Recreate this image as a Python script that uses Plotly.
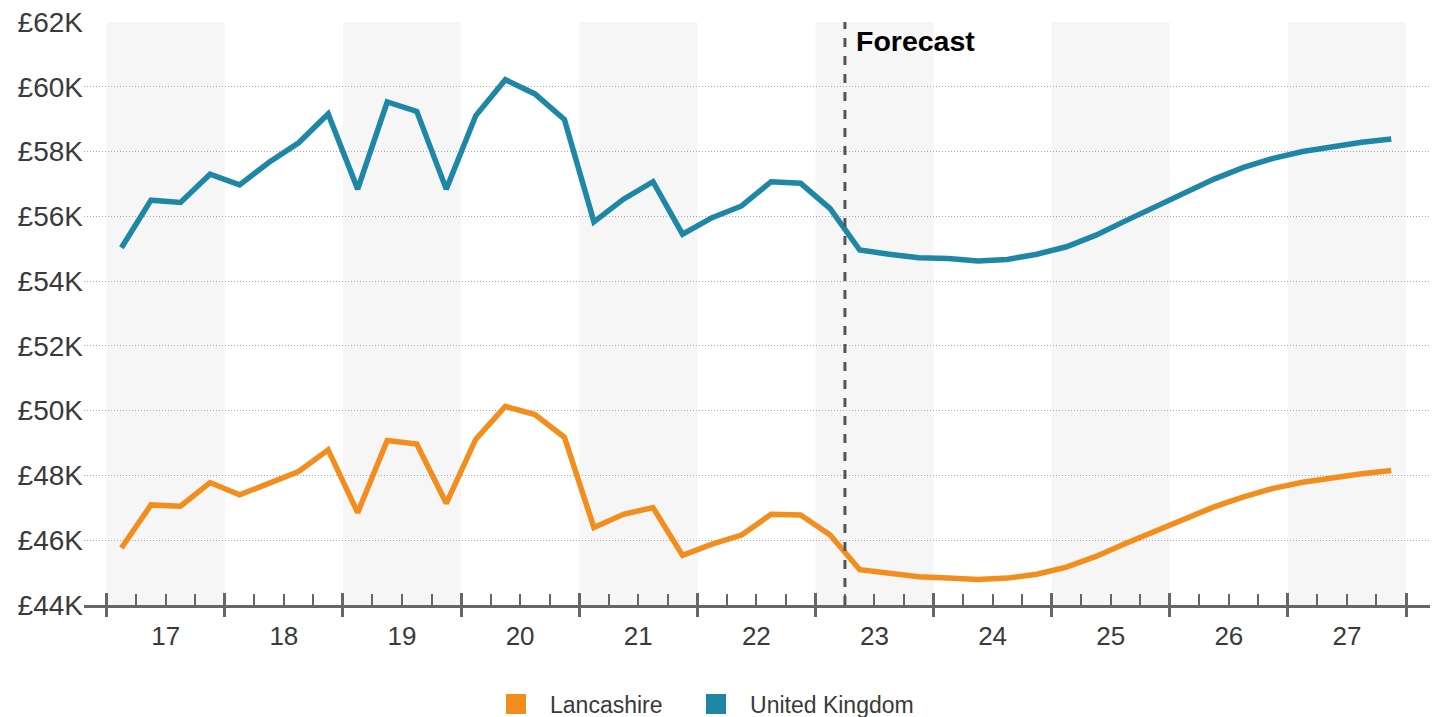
import plotly.graph_objects as go

# ---- data (values in £ thousands) ----
years = list(range(2017, 2028))
quarter_nums = [1, 2, 3, 4]
year_labels = [str(y)[2:] for y in years]
shaded_years = years[::2]
forecast_start = 2023.25  # boundary between 2023 Q1 and Q2

lancashire = [45.76, 47.09, 47.05, 47.78, 47.40, 47.76, 48.12, 48.79, 46.85, 49.08, 48.97, 47.14,
              49.12, 50.13, 49.88, 49.18, 46.39, 46.80, 47.01, 45.53, 45.88, 46.16, 46.80, 46.78,
              46.16, 45.09, 44.97, 44.87, 44.83, 44.79, 44.83, 44.95, 45.17, 45.50, 45.90, 46.29,
              46.67, 47.03, 47.34, 47.60, 47.79, 47.93, 48.05, 48.15]
united_kingdom = [55.03, 56.50, 56.43, 57.30, 56.97, 57.67, 58.27, 59.16, 56.84, 59.53, 59.24, 56.84,
                  59.11, 60.22, 59.78, 58.99, 55.83, 56.53, 57.07, 55.45, 55.96, 56.32, 57.07, 57.02,
                  56.24, 54.96, 54.83, 54.72, 54.70, 54.62, 54.67, 54.83, 55.06, 55.42, 55.86, 56.30,
                  56.74, 57.15, 57.51, 57.79, 58.00, 58.16, 58.29, 58.39]
y_ticks = list(range(44, 63, 2))
y_tick_labels = [f"£{v}K" for v in y_ticks]

# ---- styling ----
ORANGE = "#F28E1E"
BLUE = "#1F87A6"
AXIS = "#666666"
TEXT = "#3a3a3a"
FONT = "Arial, Liberation Sans, sans-serif"

x_pos = [y + (q - 0.5) / 4 for y in years for q in quarter_nums]
year_bounds = years + [years[-1] + 1]
quarter_bounds = [y + q / 4 for y in years for q in (1, 2, 3)]
x_range = [2016.808, 2028.203]
y_range = [44, 62]

fig = go.Figure()

fig.add_trace(go.Scatter(x=x_pos, y=lancashire, mode="lines", name="Lancashire",
                         line=dict(color=ORANGE, width=5.5), showlegend=False))
fig.add_trace(go.Scatter(x=x_pos, y=united_kingdom, mode="lines", name="United Kingdom",
                         line=dict(color=BLUE, width=5.5), showlegend=False))

# legend entries as squares (one legend box each, positioned side by side)
for name, col, leg in [("Lancashire", ORANGE, "legend"), ("United Kingdom", BLUE, "legend2")]:
    fig.add_trace(go.Scatter(x=[None], y=[None], mode="markers", name=name, legend=leg,
                             marker=dict(symbol="square", size=16, color=col,
                                         line=dict(color=col, width=4))))

# invisible traces to anchor the tick-only axes
fig.add_trace(go.Scatter(x=[None], y=[None], xaxis="x2", showlegend=False, hoverinfo="skip"))
fig.add_trace(go.Scatter(x=[None], y=[None], xaxis="x3", showlegend=False, hoverinfo="skip"))

shapes = []
for y in shaded_years:
    shapes.append(dict(type="rect", xref="x", yref="y", x0=y, x1=y + 1, y0=y_range[0], y1=y_range[1],
                       fillcolor="#f6f6f6", line=dict(width=0), layer="below"))
shapes.append(dict(type="line", xref="x", yref="y", x0=forecast_start, x1=forecast_start,
                   y0=y_range[0], y1=y_range[1], line=dict(color="#555555", width=3, dash="dash"),
                   layer="above"))

legend_style = dict(orientation="h", xanchor="left", y=-0.17, yanchor="middle",
                    font=dict(size=23, color=TEXT, family=FONT), itemwidth=58,
                    bgcolor="rgba(0,0,0,0)")

fig.update_layout(
    width=1439, height=717,
    margin=dict(l=84, r=9, t=22, b=112, autoexpand=False),
    paper_bgcolor="white", plot_bgcolor="white",
    font=dict(family=FONT, color=TEXT),
    shapes=shapes,
    xaxis=dict(range=x_range, tickvals=[y + 0.5 for y in years], ticktext=year_labels,
               ticks="", showgrid=False, zeroline=False, showline=True, linecolor=AXIS, linewidth=3,
               tickfont=dict(size=26, color=TEXT, family=FONT), ticklabelstandoff=6, fixedrange=True),
    xaxis2=dict(range=x_range, overlaying="x", anchor="y", side="bottom", tickvals=year_bounds,
                ticks="inside", ticklen=12, tickwidth=3, tickcolor=AXIS, showticklabels=False,
                showgrid=False, zeroline=False, showline=False,
                minor=dict(tickvals=quarter_bounds, ticks="inside", ticklen=11, tickwidth=1.5,
                           tickcolor=AXIS, showgrid=False)),
    xaxis3=dict(range=x_range, overlaying="x", anchor="y", side="bottom", tickvals=year_bounds,
                ticks="outside", ticklen=11, tickwidth=3, tickcolor=AXIS, showticklabels=False,
                showgrid=False, zeroline=False, showline=False),
    yaxis=dict(range=y_range, tickvals=y_ticks, ticktext=y_tick_labels, ticks="",
               showgrid=True, gridcolor="#a8a8a8", gridwidth=1, griddash="1px,2px", zeroline=False,
               showline=False, tickfont=dict(size=28, color=TEXT, family=FONT), fixedrange=True),
    legend=dict(x=0.2957, **legend_style),
    legend2=dict(x=0.4443, **legend_style),
    annotations=[dict(x=forecast_start, y=y_range[1], xref="x", yref="y", text="<b>Forecast</b>",
                      showarrow=False, xanchor="left", yanchor="top", xshift=9, yshift=-1,
                      font=dict(size=28.5, color="#000000", family=FONT))],
)

fig.write_html("out.html")
